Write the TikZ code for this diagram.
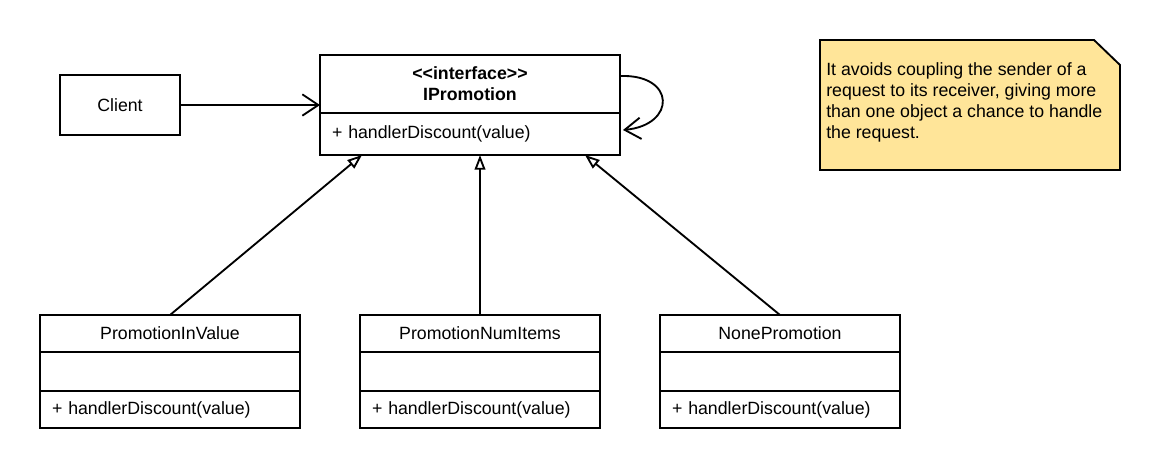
\documentclass[tikz,border=0pt]{standalone}
\usepackage{fontspec}
\setmainfont{Liberation Sans}
\usetikzlibrary{positioning,arrows.meta,backgrounds}
\definecolor{note-yellow}{RGB}{255,229,153}
\tikzset{
    uml-font/.style = {font=\fontsize{13.3}{15.75}\selectfont},
    class-part/.style = {draw, line width=1.4pt, rectangle, outer sep=0pt, inner sep=0pt, minimum width=195pt, uml-font},
    class-name/.style = {class-part, minimum height=27.75pt},
    class-attrs/.style = {class-part, minimum height=29.25pt},
    class-ops/.style = {class-part, minimum height=27.75pt, text width=177pt, inner xsep=9pt, align=left},
    narrow/.style = {minimum width=180pt},
    narrow-ops/.style = {minimum width=180pt, text width=162pt},
    iface-head/.style = {class-part, minimum width=225pt, minimum height=43.5pt, align=center, font=\fontsize{13.3}{15.75}\selectfont\bfseries},
    iface-ops/.style = {class-part, minimum width=225pt, minimum height=31.5pt, text width=207pt, inner xsep=9pt, align=left},
    plain-box/.style = {class-part, minimum width=90pt, minimum height=45pt},
    note-frame/.style = {rectangle, inner sep=0pt, outer sep=0pt, minimum width=225pt, minimum height=97.5pt, anchor=north west},
    note-outline/.style = {draw, fill=note-yellow, line width=1.4pt, line join=miter},
    note-text/.style = {inner sep=0pt, anchor=north west, align=left, uml-font},
    assoc-arrow/.style = {line width=1.4pt, -{Straight Barb[length=12pt, width=16pt, line width=1.4pt]}},
    gen-arrow/.style = {line width=1.4pt, -{Triangle[open, length=11pt, width=8pt, line width=1.4pt, fill=white]}},
}

\begin{document}
\begin{tikzpicture}[x=0.75pt, y=-0.75pt]
\useasboundingbox (0,0) rectangle (1160,469);

\node[plain-box] (client) at (120,105) {Client};

\node[iface-head, anchor=north west] (promo-head) at (320,55) {<\kern0pt<interface>\kern0pt>\\IPromotion};
\node[iface-ops, below=0pt of promo-head] (promo-ops) {+ handlerDiscount(value)};

\node[class-name, anchor=north west] (value-name) at (40,315) {PromotionInValue};
\node[class-attrs, below=0pt of value-name] (value-attrs) {};
\node[class-ops, below=0pt of value-attrs] (value-ops) {+ handlerDiscount(value)};

\node[class-name, narrow, anchor=north west] (items-name) at (360,315) {PromotionNumItems};
\node[class-attrs, narrow, below=0pt of items-name] (items-attrs) {};
\node[class-ops, narrow-ops, below=0pt of items-attrs] (items-ops) {+ handlerDiscount(value)};

\node[class-name, narrow, anchor=north west] (none-name) at (660,315) {NonePromotion};
\node[class-attrs, narrow, below=0pt of none-name] (none-attrs) {};
\node[class-ops, narrow-ops, below=0pt of none-attrs] (none-ops) {+ handlerDiscount(value)};

\draw[assoc-arrow] (client) -- (promo-head.west |- client);
\draw[assoc-arrow] ([yshift=-15.75pt]promo-head.north east) .. controls +(42pt,1.5pt) and +(40pt,3.75pt) .. ([xshift=2.25pt,yshift=3pt]promo-ops.east);

\draw[gen-arrow] (value-name.north) -- ([xshift=31.5pt]promo-ops.south west);
\draw[gen-arrow] (items-name.north) -- (items-name.north |- promo-ops.south);
\draw[gen-arrow] (none-name.north) -- ([xshift=-26.25pt]promo-ops.south east);

\node[note-frame] (note) at (820,40) {};
\begin{scope}[on background layer]
\draw[note-outline] (note.north west) -- ([xshift=-19.5pt]note.north east) -- ([yshift=-18.75pt]note.north east) -- (note.south east) -- (note.south west) -- cycle;
\end{scope}
\node[note-text] (note-body) at ([xshift=4.5pt,yshift=-17pt]note.north west) {It avoids coupling the sender of a\\request to its receiver, giving more\\than one object a chance to handle\\the request.};
\end{tikzpicture}
\end{document}
